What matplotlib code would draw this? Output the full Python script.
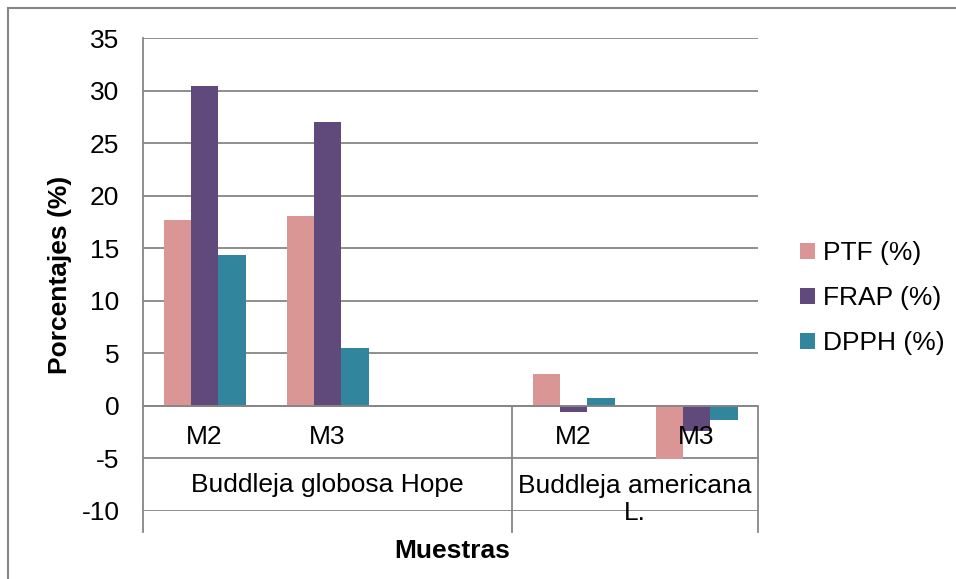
import matplotlib
matplotlib.use("Agg")
import matplotlib.pyplot as plt
import matplotlib.patches as patches
import numpy as np

plt.rcParams['font.family'] = ['Liberation Sans', 'DejaVu Sans']
plt.rcParams['axes.unicode_minus'] = False

# category slots: the third one is an empty slot inside the first group
samples = ["M2", "M3", "", "M2", "M3"]
groups = ["Buddleja globosa Hope", "Buddleja americana\nL."]
group_sizes = [3, 2]

ptf = [17.7, 18.1, np.nan, 3.0, -5.1]
frap = [30.4, 27.0, np.nan, -0.6, -2.4]
dpph = [14.4, 5.5, np.nan, 0.75, -1.3]

series_names = ["PTF (%)", "FRAP (%)", "DPPH (%)"]
colors = ["#D99694", "#604A7B", "#31859C"]
grid_col = "#868686"
fs = 19

fig = plt.figure(figsize=(9.56, 5.79), dpi=100)
ax = fig.add_axes([143 / 956, 1 - 511 / 579, 615 / 956, 473 / 579])

x = np.arange(len(samples))
w = 1 / 4.5
for i, vals in enumerate([ptf, frap, dpph]):
    ax.bar(x + (i - 1) * w, vals, width=w, color=colors[i], label=series_names[i], zorder=3)

ax.set_xlim(-0.5, len(samples) - 0.5)
ax.set_ylim(-10, 35)
ax.set_yticks(np.arange(-10, 36, 5))
ax.tick_params(axis='y', length=0, labelsize=fs, pad=17)
ax.set_xticks([])
for s in ax.spines.values():
    s.set_visible(False)
ax.yaxis.grid(True, color=grid_col, linewidth=1.3, zorder=0)
ax.axhline(0, color=grid_col, linewidth=1.3, zorder=4)

# category axis drawn as a small table under the zero line
trans = ax.get_xaxis_transform()
y_zero = 10 / 45
y_end = -21 / 473
ax.plot([-0.5, -0.5], [1, y_end], transform=trans, color=grid_col, lw=1.3, clip_on=False, zorder=4)
edge = -0.5
for n in group_sizes:
    edge += n
    ax.plot([edge, edge], [y_zero, y_end], transform=trans, color=grid_col, lw=1.3, clip_on=False, zorder=4)

for xi, lab in zip(x, samples):
    ax.text(xi, -3.0, lab, ha='center', va='center', fontsize=fs, zorder=5)

start = -0.5
for g, n in zip(groups, group_sizes):
    if "\n" in g:
        ax.text(start + n / 2, -6.45, g, ha='center', va='top', fontsize=fs, linespacing=1.2, zorder=5)
    else:
        ax.text(start + n / 2, -7.5, g, ha='center', va='center', fontsize=fs, zorder=5)
    start += n

ax.set_ylabel("Porcentajes (%)", fontsize=fs, fontweight='bold', labelpad=7)
fig.text(452 / 956, 1 - 551 / 579, "Muestras", ha='center', va='center', fontsize=fs, fontweight='bold')

ax.legend(loc='center left', bbox_to_anchor=(787 / 956, 1 - 298 / 579), bbox_transform=fig.transFigure,
          frameon=False, fontsize=fs, handlelength=0.55, handleheight=0.55, handletextpad=0.3,
          labelspacing=0.8, borderpad=0)

fig.add_artist(patches.Rectangle((8 / 956, -0.1), 2, 1 - 8 / 579 + 0.1, transform=fig.transFigure,
                                 fill=False, edgecolor=grid_col, linewidth=1.5))

fig.savefig("out.png", dpi=100)
